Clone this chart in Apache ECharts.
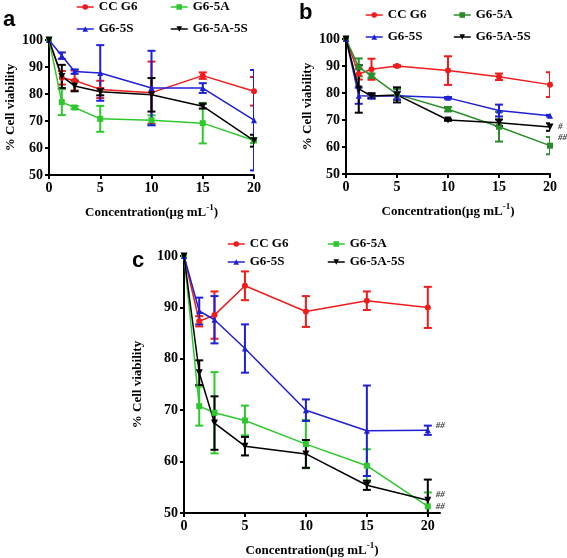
<!DOCTYPE html>
<html><head><meta charset="utf-8">
<script src="https://cdn.jsdelivr.net/npm/echarts@6/dist/echarts.min.js"></script>
<style>html,body{margin:0;padding:0;background:#fff}#c{width:567px;height:558px}</style>
</head><body><div id="c"></div>
<script>
const conc = [0, 1.25, 2.5, 5, 10, 15, 20];
const xTicks = [0, 5, 10, 15, 20];
const seriesNames = ['CC G6', 'G6-5A', 'G6-5S', 'G6-5A-5S'];

// Panel a
const aCC = [100, 86, 85, 81.7, 80.5, 86.8, 81];
const aCCErr = [0, 2.5, 3.7, 3.2, 11.5, 1.2, 5.3];
const aA = [100, 77, 75, 70.8, 70.3, 69.2, 62.8];
const aAErr = [0, 4.8, 0.5, 4.8, 1.8, 7.5, 1];
const aS = [100, 94.2, 88.3, 87.8, 82.2, 82.2, 70.3];
const aSErr = [0, 1.2, 0.8, 10.3, 13.8, 1.8, 18.6];
const aAS = [100, 86.5, 83, 80.8, 79.7, 75.5, 62.7];
const aASErr = [0, 4.3, 2, 1.3, 6.2, 0.9, 2.2];

// Panel b
const bCC = [100, 87, 88.8, 90, 88.3, 86, 83.1];
const bCCErr = [0, 2, 3.9, 0.3, 5.3, 1.2, 4.6];
const bA = [100, 89.5, 86.4, 79.5, 74, 67.5, 60.5];
const bAErr = [0, 3.3, 0.8, 2, 0.8, 5.5, 3.2];
const bS = [100, 79, 78.9, 79, 78.2, 73.5, 71.6];
const bSErr = [0, 3, 1, 1.5, 0.3, 2.2, 0.3];
const bAS = [100, 81.5, 78.9, 79.3, 70, 69, 67.4];
const bASErr = [0, 8.8, 0.8, 2.8, 0.3, 1.2, 1.4];
const bNotes = [[20, 67.6, '#'], [20, 63.6, '##']];

// Panel c
const cCC = [100, 87.3, 88.5, 94.2, 89.2, 91.3, 90];
const cCCErr = [0, 1, 4.6, 2.8, 3, 1.8, 4];
const cA = [100, 70.8, 69.5, 68, 63.4, 59.2, 51.3];
const cAErr = [0, 3.8, 7.9, 2.9, 4.7, 3.2, 2.7];
const cS = [100, 89.3, 87.6, 82, 70, 66, 66.1];
const cSErr = [0, 2.6, 4.6, 4.7, 2.1, 8.8, 0.9];
const cAS = [100, 77.3, 67.5, 63, 61.5, 55.4, 52.5];
const cASErr = [0, 2.4, 5.2, 1.8, 2.7, 0.9, 4];
const cNotes = [[20, 66.9, '##'], [20, 53.6, '##'], [20, 51.2, '##']];

const SERIF = '"Liberation Serif", "Times New Roman", serif';
const RED = '#f01c1c', BLUE = '#1f1fd6', GREEN = '#2ec82e', DGREEN = '#2a8c2a', BLACK = '#000';
const SYMS = ['circle', 'rect', 'triangle', 'path://M0,0L10,0L5,9Z'];

const panels = [
  {vals: [aCC, aA, aS, aAS], errs: [aCCErr, aAErr, aSErr, aASErr], colors: [RED, GREEN, BLUE, BLACK],
   grid: {left: 49, top: 40, width: 205, height: 135}, xmax: 20, yGap: 32, notes: [],
   legends: [{left: 76, top: 0, gap: 8}, {left: 170, top: 0, gap: 8}]},
  {vals: [bCC, bA, bS, bAS], errs: [bCCErr, bAErr, bSErr, bASErr], colors: [RED, DGREEN, BLUE, BLACK],
   grid: {left: 346, top: 39, width: 204, height: 135}, xmax: 20, yGap: 32, notes: bNotes,
   legends: [{left: 365, top: 8, gap: 8}, {left: 453, top: 8, gap: 8}]},
  {vals: [cCC, cA, cS, cAS], errs: [cCCErr, cAErr, cSErr, cASErr], colors: [RED, GREEN, BLUE, BLACK],
   grid: {left: 184, top: 256, width: 256, height: 257}, xmax: 21, yGap: 40, notes: cNotes,
   legends: [{left: 227, top: 237, gap: 4}, {left: 327, top: 237, gap: 4}]}
];

function errSeries(i, vals, errs, color) {
  return {
    type: 'custom', xAxisIndex: i, yAxisIndex: i, clip: true, silent: true, z: 3,
    data: conc.map((x, k) => [x, vals[k], errs[k]]),
    renderItem(params, api) {
      const x = api.value(0), y = api.value(1), e = api.value(2);
      if (!e) return null;
      const t = api.coord([x, y + e]), b = api.coord([x, y - e]);
      const hw = 4, st = {stroke: color, lineWidth: 2};
      return {type: 'group', children: [
        {type: 'line', shape: {x1: t[0], y1: t[1], x2: b[0], y2: b[1]}, style: st},
        {type: 'line', shape: {x1: t[0] - hw, y1: t[1], x2: t[0] + hw, y2: t[1]}, style: st},
        {type: 'line', shape: {x1: b[0] - hw, y1: b[1], x2: b[0] + hw, y2: b[1]}, style: st}
      ]};
    }
  };
}

const grids = [], xAxes = [], yAxes = [], series = [], legends = [];
const axisText = {fontFamily: SERIF, fontWeight: 'bold', fontSize: 14, color: '#000'};
panels.forEach((p, i) => {
  grids.push(Object.assign({containLabel: false}, p.grid));
  xAxes.push({
    gridIndex: i, type: 'value', min: 0, max: p.xmax, interval: 5,
    axisLine: {show: true, onZero: false, lineStyle: {color: '#000', width: 2}},
    axisTick: {show: true, length: 4, lineStyle: {color: '#000', width: 2}, customValues: xTicks},
    axisLabel: Object.assign({margin: 6, customValues: xTicks}, axisText),
    splitLine: {show: false},
    name: '{m|Concentration(μg mL}{s|-1}{m|)}', nameLocation: 'middle', nameGap: 28,
    nameTextStyle: {rich: {
      m: {fontFamily: SERIF, fontWeight: 'bold', fontSize: 13, color: '#000', lineHeight: 16, verticalAlign: 'bottom'},
      s: {fontFamily: SERIF, fontWeight: 'bold', fontSize: 9, color: '#000', lineHeight: 10, verticalAlign: 'top'}
    }}
  });
  yAxes.push({
    gridIndex: i, type: 'value', min: 50, max: 100, interval: 10,
    axisLine: {show: true, onZero: false, lineStyle: {color: '#000', width: 2}},
    axisTick: {show: true, length: 4, lineStyle: {color: '#000', width: 2}},
    axisLabel: Object.assign({margin: 6}, axisText),
    splitLine: {show: false},
    name: '% Cell viability', nameLocation: 'middle', nameGap: p.yGap,
    nameTextStyle: {fontFamily: SERIF, fontWeight: 'bold', fontSize: 13, color: '#000'}
  });
  seriesNames.forEach((nm, k) => {
    series.push(errSeries(i, p.vals[k], p.errs[k], p.colors[k]));
  });
  seriesNames.forEach((nm, k) => {
    series.push({
      type: 'line', name: nm, xAxisIndex: i, yAxisIndex: i, z: 4,
      data: conc.map((x, j) => [x, p.vals[k][j]]),
      symbol: SYMS[k], symbolSize: k === 3 ? 7 : 6, showSymbol: true,
      lineStyle: {color: p.colors[k], width: 1.5},
      itemStyle: {color: p.colors[k]},
      emphasis: {disabled: true}, animation: false
    });
  });
  if (p.notes.length) {
    series.push({
      type: 'scatter', xAxisIndex: i, yAxisIndex: i, symbolSize: 0, silent: true, z: 5,
      data: p.notes.map(n => ({value: [n[0], n[1]], label: {formatter: n[2]}})),
      label: {show: true, position: 'right', distance: 8, fontFamily: SERIF, fontWeight: 'bold',
              fontStyle: 'italic', fontSize: 9, color: '#000'}
    });
  }
  const cols = [[0, 2], [1, 3]];
  p.legends.forEach((L, c) => {
    legends.push({
      orient: 'vertical', left: L.left, top: L.top, padding: 0, itemGap: L.gap,
      itemWidth: 17, itemHeight: 7, selectedMode: false,
      textStyle: {fontFamily: SERIF, fontWeight: 'bold', fontSize: 13, color: '#000', lineHeight: 14},
      data: cols[c].map(k => ({name: seriesNames[k],
        itemStyle: {color: p.colors[k]}, lineStyle: {color: p.colors[k], width: 1.5}}))
    });
  });
});

const chart = echarts.init(document.getElementById('c'), null, {renderer: 'canvas'});
chart.setOption({
  animation: false,
  backgroundColor: '#fff',
  grid: grids, xAxis: xAxes, yAxis: yAxes, series: series, legend: legends,
  graphic: [
    {type: 'text', left: 3, top: 9, style: {text: 'a', font: 'bold 22px "Liberation Sans", Arial, sans-serif', fill: '#000'}},
    {type: 'text', left: 299, top: 2, style: {text: 'b', font: 'bold 22px "Liberation Sans", Arial, sans-serif', fill: '#000'}},
    {type: 'text', left: 132, top: 250, style: {text: 'c', font: 'bold 22px "Liberation Sans", Arial, sans-serif', fill: '#000'}}
  ]
});
</script></body></html>
